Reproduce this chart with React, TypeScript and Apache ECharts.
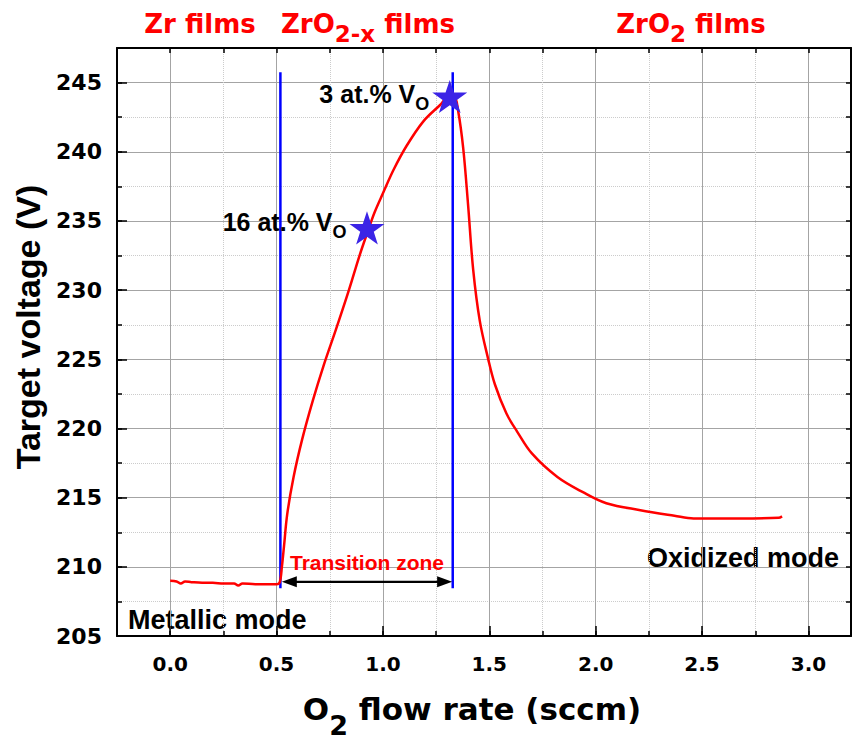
import React, { useEffect, useRef } from 'react';
import * as echarts from 'echarts';

// ---- axis ranges & tick labels ----
const X_RANGE = [-0.25, 3.2];
const Y_RANGE = [205, 247.5];
const X_TICK_LABELS = [0, 0.5, 1, 1.5, 2, 2.5, 3];
const Y_TICK_LABELS = [205, 210, 215, 220, 225, 230, 235, 240, 245];

// ---- target voltage curve ----
const FLOW = [0.00, 0.03, 0.05, 0.07, 0.10, 0.15, 0.20, 0.25, 0.30, 0.32, 0.34, 0.40, 0.45, 0.50, 0.515,
  0.525, 0.535, 0.55, 0.58, 0.62, 0.67, 0.72, 0.78, 0.84, 0.89, 0.93, 0.96, 1.00, 1.05, 1.11,
  1.19, 1.27, 1.31, 1.335, 1.353, 1.377, 1.40, 1.424, 1.455, 1.495, 1.526, 1.58, 1.63, 1.70, 1.82,
  1.94, 2.05, 2.21, 2.37, 2.46, 2.68, 2.86, 2.876];
const VOLTAGE = [209.0, 208.95, 208.8, 208.95, 208.9, 208.85, 208.85, 208.8, 208.8, 208.65, 208.8, 208.75, 208.75, 208.75, 208.9,
  210.0, 211.5, 213.8, 216.5, 219.2, 222.0, 224.5, 227.2, 230.0, 232.5, 234.3, 235.6, 237.0, 238.7, 240.4,
  242.2, 243.4, 244.0, 244.0, 243.0, 240.3, 236.2, 231.5, 227.8, 225.0, 223.2, 221.1, 219.8, 218.2, 216.5,
  215.4, 214.6, 214.1, 213.7, 213.5, 213.5, 213.55, 213.65];

// ---- marked compositions (stars) ----
const STAR_FLOW = [0.925, 1.314];
const STAR_VOLTAGE = [234.5, 244.0];
const STAR_LABELS = ['16 at.% V', '3 at.% V'];

// ---- transition-zone boundaries & arrow ----
const BOUNDARY_FLOW = [0.518, 1.328];
const BOUNDARY_VOLTAGE = [208.45, 245.75];
const ARROW_FLOW = [0.56, 1.29];
const ARROW_VOLTAGE = [208.93, 208.93];

// ---- text ----
const FILM_LABELS = ['Zr films', 'ZrO{s|2-x} films', 'ZrO{s|2} films'];
const MODE_LABELS = ['Metallic mode', 'Oxidized mode'];
const ZONE_LABEL = 'Transition zone';
const X_NAME = '{m|O}{s|2}{m| flow rate (sccm)}';
const Y_NAME = 'Target voltage (V)';

const STAR_PATH = 'path://M50,0L61.8,35.3L99,35.3L69,57.1L80.4,92.7L50,70.9L19.6,92.7L31,57.1L1,35.3L38.2,35.3Z';

const BOLD_DV = { fontFamily: 'DejaVu Sans', fontWeight: 'bold' as const };
const BOLD_LS = { fontFamily: 'Liberation Sans', fontWeight: 'bold' as const };
const MAJOR_GRID = '#a4a4a4';
const MINOR_GRID = '#cccccc';
const NONE = 'rgba(0,0,0,0)';

const isMult = (v: number, step: number) => Math.abs(v / step - Math.round(v / step)) < 1e-6;

function buildOption(): any {
  const axisLine = { show: true, onZero: false, lineStyle: { color: '#000', width: 2 } };
  const tickStyle = { color: '#000', width: 1.5 };
  const xBase = { type: 'value', min: X_RANGE[0], max: X_RANGE[1], interval: 0.25 };
  const yBase = { type: 'value', min: Y_RANGE[0], max: Y_RANGE[1] };

  return {
    animation: false,
    backgroundColor: '#ffffff',
    grid: { left: 117, top: 48, right: 2, bottom: 92, containLabel: false },
    xAxis: [
      {
        ...xBase,
        position: 'bottom',
        axisLine,
        axisTick: { show: true, inside: true, length: 5, lineStyle: tickStyle },
        axisLabel: {
          show: true,
          customValues: X_TICK_LABELS,
          formatter: (v: number) => (isMult(v, 0.5) && v >= 0 && v <= 3 ? v.toFixed(1) : ''),
          margin: 18,
          color: '#000',
          fontSize: 20,
          ...BOLD_DV,
        },
        splitLine: { show: true, lineStyle: { color: [NONE, MAJOR_GRID], width: 1, type: 'solid' } },
        name: X_NAME,
        nameLocation: 'middle',
        nameGap: 43,
        nameTextStyle: {
          padding: [0, 24, 0, 0],
          rich: {
            m: { ...BOLD_DV, fontSize: 31, color: '#000', lineHeight: 36 },
            s: { ...BOLD_DV, fontSize: 27, color: '#000', lineHeight: 26, padding: [33, 0, 0, 0] },
          },
        },
      },
      {
        ...xBase,
        position: 'top',
        axisLine,
        axisTick: { show: true, inside: true, length: 5, lineStyle: tickStyle },
        axisLabel: { show: false },
        splitLine: { show: true, lineStyle: { color: [MINOR_GRID, NONE], width: 1, type: 'dotted' } },
      },
      {
        ...xBase,
        position: 'bottom',
        axisLine: { show: false, onZero: false },
        axisTick: { show: true, inside: true, length: 10, customValues: X_TICK_LABELS, lineStyle: tickStyle },
        axisLabel: { show: false },
        splitLine: { show: false },
      },
    ],
    yAxis: [
      {
        ...yBase,
        interval: 2.5,
        position: 'left',
        axisLine,
        axisTick: { show: true, inside: true, length: 5, lineStyle: tickStyle },
        axisLabel: {
          show: true,
          customValues: Y_TICK_LABELS,
          formatter: (v: number) => (isMult(v, 5) && v <= 245 ? String(v) : ''),
          margin: 15,
          color: '#000',
          fontSize: 22,
          ...BOLD_DV,
        },
        splitLine: { show: true, lineStyle: { color: [MAJOR_GRID, NONE], width: 1, type: 'solid' } },
        name: Y_NAME,
        nameLocation: 'middle',
        nameGap: 70,
        nameTextStyle: { ...BOLD_LS, fontSize: 34, color: '#000', padding: [0, 0, 0, 30] },
      },
      {
        ...yBase,
        interval: 2.5,
        position: 'right',
        axisLine,
        axisTick: { show: true, inside: true, length: 5, lineStyle: tickStyle },
        axisLabel: { show: false },
        splitLine: { show: true, lineStyle: { color: [NONE, MINOR_GRID], width: 1, type: 'dotted' } },
      },
      {
        ...yBase,
        interval: 5,
        position: 'left',
        axisLine: { show: false, onZero: false },
        axisTick: { show: true, inside: true, length: 10, lineStyle: tickStyle },
        axisLabel: { show: false },
        splitLine: { show: false },
      },
    ],
    series: [
      ...BOUNDARY_FLOW.map((x, i) => ({
        name: 'boundary' + i,
        type: 'line',
        xAxisIndex: 0,
        yAxisIndex: 0,
        z: 3,
        silent: true,
        showSymbol: false,
        symbol: 'none',
        lineStyle: { color: '#0000ff', width: 2.5 },
        data: BOUNDARY_VOLTAGE.map((v) => [x, v]),
      })),
      {
        name: 'transition',
        type: 'line',
        xAxisIndex: 0,
        yAxisIndex: 0,
        z: 3,
        silent: true,
        symbol: 'none',
        lineStyle: { color: '#000', width: 2 },
        data: ARROW_FLOW.map((x, i) => [x, ARROW_VOLTAGE[i]]),
        markLine: {
          silent: true,
          symbol: ['triangle', 'triangle'],
          symbolSize: [11, 15],
          lineStyle: { color: '#000', width: 2, type: 'solid' },
          itemStyle: { color: '#000' },
          label: {
            show: true,
            position: 'middle',
            distance: 9,
            formatter: ZONE_LABEL,
            color: '#ff0000',
            fontSize: 21,
            ...BOLD_LS,
          },
          data: [[
            { coord: [ARROW_FLOW[0], ARROW_VOLTAGE[0]] },
            { coord: [ARROW_FLOW[1], ARROW_VOLTAGE[1]] },
          ]],
        },
      },
      {
        name: 'Target voltage',
        type: 'line',
        xAxisIndex: 0,
        yAxisIndex: 0,
        z: 4,
        symbol: 'none',
        smooth: 0.35,
        lineStyle: { color: '#ff0000', width: 2.5 },
        data: FLOW.map((x, i) => [x, VOLTAGE[i]]),
      },
      {
        name: 'Vo',
        type: 'scatter',
        xAxisIndex: 0,
        yAxisIndex: 0,
        z: 5,
        symbol: STAR_PATH,
        symbolKeepAspect: true,
        symbolSize: 35,
        itemStyle: { color: '#3b24e6', opacity: 1 },
        label: {
          show: true,
          position: 'left',
          distance: 3,
          formatter: (p: any) => `{a|${STAR_LABELS[p.dataIndex]}}{s|O}`,
          rich: {
            a: { ...BOLD_LS, fontSize: 25, color: '#000' },
            s: { ...BOLD_LS, fontSize: 18, color: '#000', lineHeight: 18, padding: [20, 0, 0, 0] },
          },
        },
        data: STAR_FLOW.map((x, i) => ({
          value: [x, STAR_VOLTAGE[i]],
          label: { offset: [0, i === 0 ? -5.5 : -2] },
        })),
      },
    ],
    graphic: [
      ...FILM_LABELS.map((t, i) => ({
        type: 'text',
        x: [200, 368, 691][i],
        y: 24,
        silent: true,
        style: {
          text: t,
          fill: '#ff0000',
          fontSize: 26,
          fontFamily: 'DejaVu Sans',
          fontWeight: 'bold',
          textAlign: 'center',
          textVerticalAlign: 'middle',
          rich: {
            s: { fill: '#ff0000', fontSize: 23, fontFamily: 'DejaVu Sans', fontWeight: 'bold', lineHeight: 23, padding: [19, 0, 0, 0] },
          },
        },
      })),
      ...MODE_LABELS.map((t, i) => ({
        type: 'text',
        x: [128, 647][i],
        y: [620, 557.5][i],
        silent: true,
        style: {
          text: t,
          fill: '#000',
          fontSize: 27,
          fontFamily: 'Liberation Sans',
          fontWeight: 'bold',
          textAlign: 'left',
          textVerticalAlign: 'middle',
        },
      })),
    ],
  };
}

export default function App() {
  const ref = useRef<HTMLDivElement>(null);
  useEffect(() => {
    if (!ref.current) return;
    const chart = echarts.init(ref.current, null, { renderer: 'svg' });
    chart.setOption(buildOption());
    return () => chart.dispose();
  }, []);
  return (
    <div
      ref={ref}
      style={{ position: 'absolute', left: 0, top: 0, width: 853, height: 744, background: '#fff' }}
    />
  );
}
